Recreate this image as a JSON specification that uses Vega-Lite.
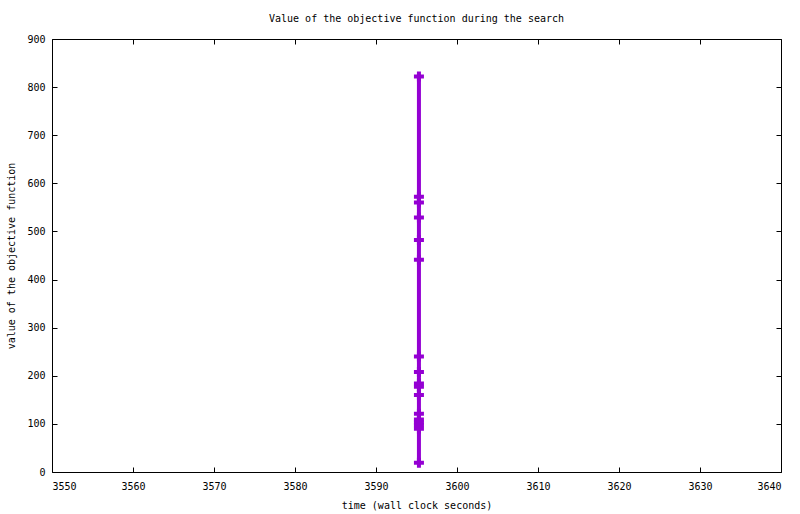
{
  "$schema": "https://vega.github.io/schema/vega-lite/v6.json",
  "autosize": "none",
  "width": 729,
  "height": 433,
  "padding": {"left": 52, "top": 39, "right": 19, "bottom": 42},
  "background": "white",
  "title": {
    "text": "Value of the objective function during the search",
    "font": "DejaVu Sans Mono",
    "fontSize": 10,
    "fontWeight": "normal",
    "color": "black",
    "offset": 10
  },
  "config": {
    "view": {"stroke": "black", "strokeWidth": 1},
    "axis": {
      "grid": false,
      "domain": false,
      "tickColor": "black",
      "tickSize": -5,
      "labelOverlap": false,
      "labelFont": "DejaVu Sans Mono",
      "labelFontSize": 10,
      "labelColor": "black",
      "titleFont": "DejaVu Sans Mono",
      "titleFontSize": 10,
      "titleFontWeight": "normal",
      "titleColor": "black"
    }
  },
  "data": {
    "values": [
      {"time": 3595.3, "value": 822},
      {"time": 3595.3, "value": 572},
      {"time": 3595.3, "value": 560},
      {"time": 3595.3, "value": 529},
      {"time": 3595.3, "value": 482},
      {"time": 3595.3, "value": 441},
      {"time": 3595.3, "value": 240},
      {"time": 3595.3, "value": 208},
      {"time": 3595.3, "value": 184},
      {"time": 3595.3, "value": 177},
      {"time": 3595.3, "value": 160},
      {"time": 3595.3, "value": 121},
      {"time": 3595.3, "value": 109},
      {"time": 3595.3, "value": 103},
      {"time": 3595.3, "value": 97},
      {"time": 3595.3, "value": 90},
      {"time": 3595.3, "value": 19}
    ]
  },
  "encoding": {
    "x": {
      "field": "time",
      "type": "quantitative",
      "scale": {"domain": [3550, 3640], "nice": false, "zero": false}
    },
    "y": {
      "field": "value",
      "type": "quantitative",
      "scale": {"domain": [0, 900], "nice": false}
    }
  },
  "layer": [
    {
      "mark": {"type": "line", "color": "#9400d3", "strokeWidth": 4, "strokeCap": "square"},
      "encoding": {
        "x": {
          "field": "time",
          "type": "quantitative",
          "axis": {"title": "time (wall clock seconds)", "format": "d", "values": [3550, 3560, 3570, 3580, 3590, 3600, 3610, 3620, 3630, 3640], "labelPadding": 14, "titlePadding": 9}
        },
        "y": {
          "field": "value",
          "type": "quantitative",
          "axis": {"title": "value of the objective function", "format": "d", "values": [0, 100, 200, 300, 400, 500, 600, 700, 800, 900], "labelPadding": 12, "titlePadding": 10}
        },
        "order": {"field": "value", "type": "quantitative"}
      }
    },
    {
      "mark": {"type": "point", "shape": "M-1,0H1M0,-1V1", "size": 100, "filled": false, "color": "#9400d3", "strokeWidth": 4, "opacity": 1},
      "encoding": {
        "x": {
          "field": "time",
          "type": "quantitative",
          "axis": {"orient": "top", "labels": false, "title": null, "values": [3550, 3560, 3570, 3580, 3590, 3600, 3610, 3620, 3630, 3640]}
        },
        "y": {
          "field": "value",
          "type": "quantitative",
          "axis": {"orient": "right", "labels": false, "title": null, "values": [0, 100, 200, 300, 400, 500, 600, 700, 800, 900]}
        }
      }
    }
  ],
  "resolve": {"axis": {"x": "independent", "y": "independent"}}
}
